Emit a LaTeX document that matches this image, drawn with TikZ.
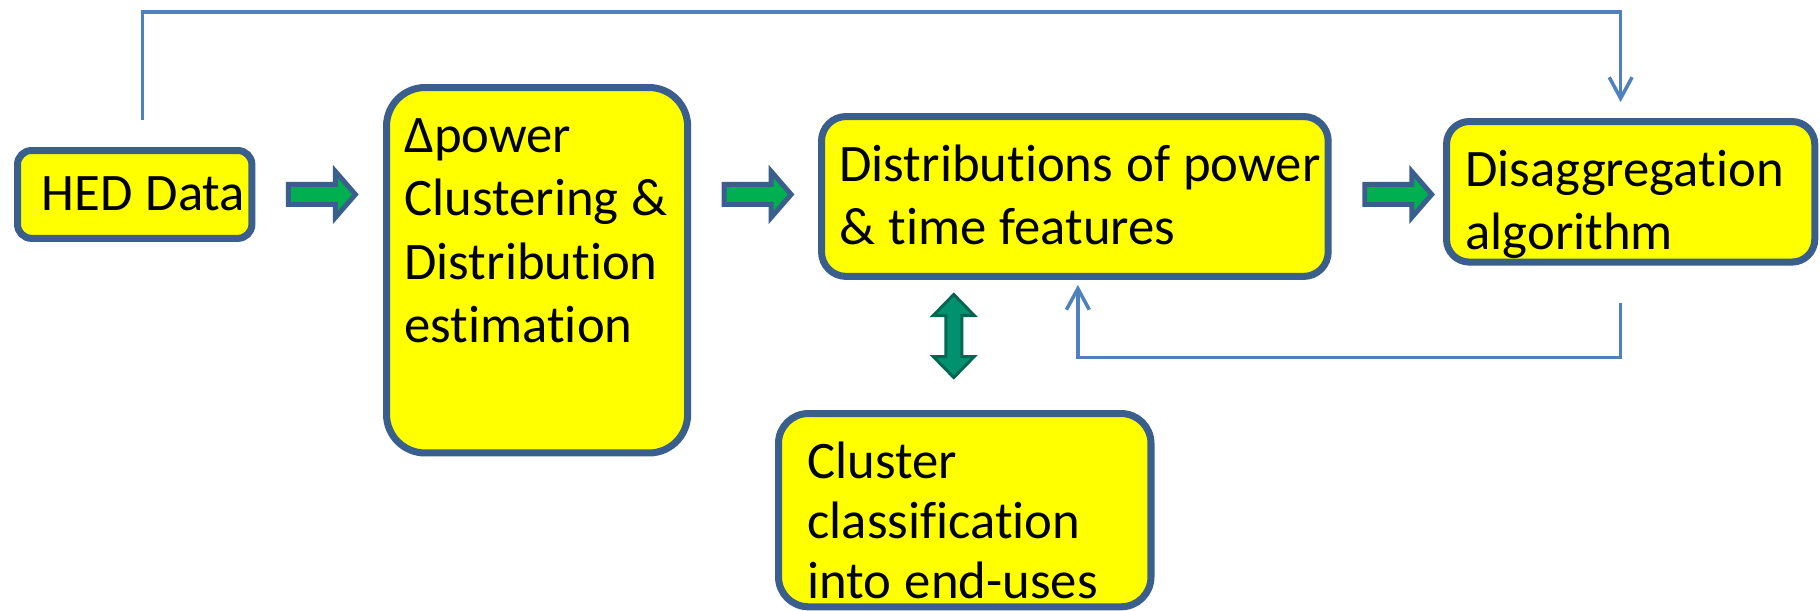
\documentclass[tikz,border=0pt]{standalone}
\usepackage{fontspec}
\setmainfont{Carlito}[WordSpace={1.1,0,0}, Ligatures=NoCommon]
\usetikzlibrary{arrows.meta, positioning, calc}
\definecolor{boxline}{RGB}{58,95,140}
\definecolor{boxfill}{RGB}{255,255,0}
\definecolor{fatgreen}{RGB}{0,176,80}
\definecolor{tealfill}{RGB}{0,145,110}
\definecolor{tealline}{RGB}{0,104,80}
\definecolor{linkblue}{RGB}{79,129,189}
\tikzset{
  box/.style={draw=boxline, fill=boxfill, line width=4pt, anchor=north west,
              align=flush left, inner xsep=10.2pt, inner ysep=17pt, text height=20pt,
              font=\fontsize{30}{36}\selectfont},
  fatarr/.style={draw=boxline, fill=fatgreen, line width=2.8pt, line join=miter},
  twoway/.style={draw=tealline, fill=tealfill, line width=1.7pt, line join=miter},
  fb/.style={draw=linkblue, line width=2pt,
             -{Straight Barb[length=12pt,width=13pt]}},
}
% fat block arrow leaving a box at the height of the HED box
\newcommand{\fatarrow}[1]{%
  \filldraw[fatarr, shift={($(#1.east |- hed.east)+(33,0)$)}]
    (0,-10) -- (47,-10) -- (47,-23) -- (67,0) -- (47,23) -- (47,10) -- (0,10) -- cycle;}

\begin{document}
\begin{tikzpicture}[x=0.02cm, y=-0.02cm]
\useasboundingbox[fill=white] (0,0) rectangle (1820,610);

\node[box, rounded corners=8pt, inner xsep=13.7pt, inner ysep=14pt,
      text width=106pt, text depth=2pt] (hed) at (14,147) {HED~Data};
\node[box, rounded corners=22pt, text width=151pt, text depth=154pt] (delta) at (383,84)
  {Δpower\\Clustering~\&\\Distribution\\estimation};
\node[box, rounded corners=14pt, text width=268pt, text depth=37pt] (dist) at (818,113)
  {Distributions~of~power\\\&~time~features};
\node[box, rounded corners=13pt, inner xsep=10.8pt, text width=188pt,
      text depth=26pt] (disagg) at (1443,118) {Disaggregation\\algorithm};
\node[box, rounded corners=17pt, inner xsep=16.5pt, text width=179pt, text depth=56pt,
      font=\fontsize{30}{34}\selectfont] (clus) at (775,410)
  {Cluster\\classification\\into~end-uses};

\foreach \a in {hed, delta, dist}
  \fatarrow{\a};

\filldraw[twoway, shift={($(clus.north)+(-11,-74)$)}]
  (0,-41.5) -- (20.5,-20.5) -- (8,-20.5) -- (8,20.5) -- (20.5,20.5) -- (0,41.5)
  -- (-20.5,20.5) -- (-8,20.5) -- (-8,-20.5) -- (-20.5,-20.5) -- cycle;

\draw[fb] ([shift={(8,-27)}]hed.north) -- ++(0,-108) -| ([shift={(-10,-16)}]disagg.north);
\draw[fb] ([shift={(-10,37)}]disagg.south) -- ++(0,55) -| ([shift={(3,5)}]dist.south);

\end{tikzpicture}
\end{document}
